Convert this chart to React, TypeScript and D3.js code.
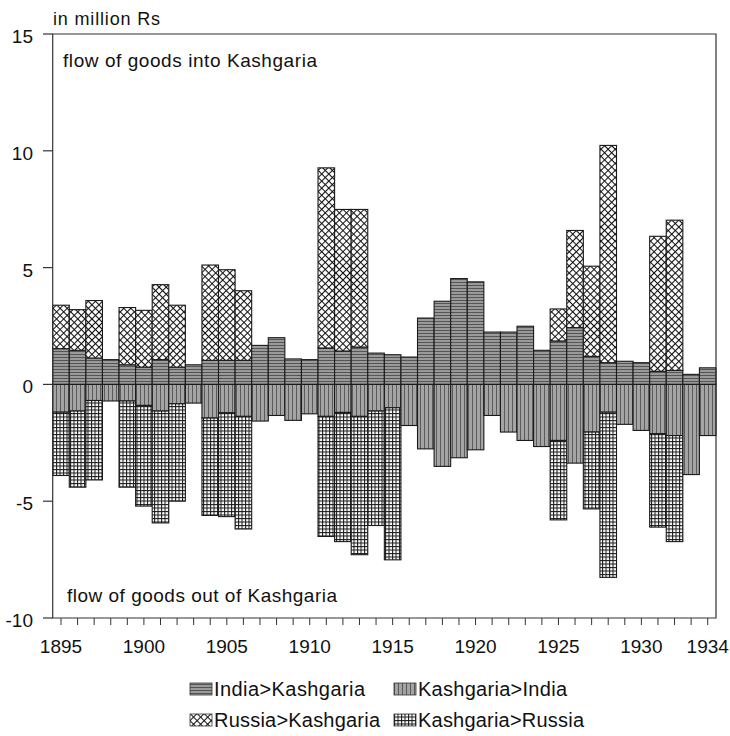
import { useEffect, useRef } from 'react';
import * as d3 from 'd3';

// trade flows of Kashgaria, million Rs, one value per year
const years = d3.range(1895, 1935);

const indiaToKashgaria = [
  1.53, 1.46, 1.13, 1.06, 0.84, 0.74, 1.06, 0.74, 0.84, 1.03,
  1.03, 1.03, 1.67, 2.0, 1.09, 1.06, 1.56, 1.43, 1.6, 1.34,
  1.27, 1.17, 2.84, 3.56, 4.53, 4.39, 2.24, 2.24, 2.49, 1.46,
  1.86, 2.43, 1.2, 0.93, 0.99, 0.93, 0.56, 0.6, 0.43, 0.71,
];
const russiaToKashgaria = [
  1.86, 1.74, 2.46, 0, 2.45, 2.43, 3.21, 2.65, 0, 4.08,
  3.88, 2.98, 0, 0, 0, 0, 7.71, 6.06, 5.89, 0,
  0, 0, 0, 0, 0, 0, 0, 0, 0, 0,
  1.37, 4.16, 3.86, 9.3, 0, 0, 5.78, 6.43, 0, 0,
];
const kashgariaToIndia = [
  1.19, 1.14, 0.69, 0.71, 0.71, 0.9, 1.14, 0.83, 0.8, 1.44,
  1.21, 1.37, 1.57, 1.33, 1.54, 1.26, 1.37, 1.2, 1.37, 1.14,
  1.0, 1.76, 2.76, 3.51, 3.14, 2.8, 1.33, 2.04, 2.4, 2.66,
  2.4, 3.37, 2.04, 1.19, 1.71, 1.97, 2.11, 2.19, 3.86, 2.19,
];
const kashgariaToRussia = [
  2.71, 3.26, 3.4, 0, 3.69, 4.31, 4.79, 4.17, 0, 4.17,
  4.45, 4.82, 0, 0, 0, 0, 5.14, 5.53, 5.92, 4.9,
  6.51, 0, 0, 0, 0, 0, 0, 0, 0, 0,
  3.4, 0, 3.29, 7.07, 0, 0, 4.0, 4.54, 0, 0,
];

const yTicks = [15, 10, 5, 0, -5, -10];
const yearLabels = [1895, 1900, 1905, 1910, 1915, 1920, 1925, 1930, 1934];

const legendItems = [
  { key: 'ind', label: 'India>Kashgaria', len: 151 },
  { key: 'kind', label: 'Kashgaria>India', len: 149 },
  { key: 'rus', label: 'Russia>Kashgaria', len: 166 },
  { key: 'krus', label: 'Kashgaria>Russia', len: 166 },
];

const FONT = "'Liberation Sans', Arial, Helvetica, sans-serif";

interface Segment {
  year: number;
  y0: number;
  y1: number;
  key: string;
}

export default function App() {
  const svgRef = useRef<SVGSVGElement>(null);

  useEffect(() => {
    if (!svgRef.current) return;
    const svg = d3.select(svgRef.current);
    svg.selectAll('g.chart').remove();

    const left = 52.7;
    const right = 716;
    const top = 34;
    const bottom = 618;

    const x = d3.scaleBand<number>().domain(years).range([left, right]).padding(0);
    const y = d3.scaleLinear().domain([-10, 15]).range([bottom, top]);

    // stack the four flows: imports above zero, exports below
    const segments: Segment[] = [];
    years.forEach((year, i) => {
      const ind = indiaToKashgaria[i];
      const rus = russiaToKashgaria[i];
      const kin = kashgariaToIndia[i];
      const kru = kashgariaToRussia[i];
      if (ind > 0) segments.push({ year, y0: 0, y1: ind, key: 'ind' });
      if (rus > 0) segments.push({ year, y0: ind, y1: ind + rus, key: 'rus' });
      if (kin > 0) segments.push({ year, y0: -kin, y1: 0, key: 'kind' });
      if (kru > 0) segments.push({ year, y0: -kin - kru, y1: -kin, key: 'krus' });
    });

    const g = svg.append('g').attr('class', 'chart');

    g.selectAll('.seg')
      .data(segments)
      .enter()
      .append('rect')
      .attr('class', 'seg')
      .attr('x', d => x(d.year) ?? 0)
      .attr('width', x.bandwidth())
      .attr('y', d => y(d.y1))
      .attr('height', d => y(d.y0) - y(d.y1))
      .attr('fill', d => `url(#p-${d.key})`)
      .attr('stroke', '#1a1a1a')
      .attr('stroke-width', 1.1);

    // frame
    g.append('path')
      .attr('d', `M${left},${top}H${right}V${bottom}H${left}Z`)
      .attr('fill', 'none')
      .attr('stroke', '#333')
      .attr('stroke-width', 1.2);

    // y axis ticks and labels
    const yAxis = g.append('g');
    yAxis.selectAll('line')
      .data(yTicks)
      .enter()
      .append('line')
      .attr('x1', 43)
      .attr('x2', left)
      .attr('y1', d => y(d))
      .attr('y2', d => y(d))
      .attr('stroke', '#333')
      .attr('stroke-width', 1.2);
    yAxis.selectAll('text')
      .data(yTicks)
      .enter()
      .append('text')
      .attr('x', 33)
      .attr('y', d => y(d) + 9)
      .attr('text-anchor', 'end')
      .attr('font-size', 19)
      .attr('font-family', FONT)
      .attr('fill', '#111')
      .text(d => String(d));

    // x axis ticks and labels
    const xAxis = g.append('g');
    xAxis.selectAll('line')
      .data(years)
      .enter()
      .append('line')
      .attr('x1', d => (x(d) ?? 0) + x.bandwidth() / 2)
      .attr('x2', d => (x(d) ?? 0) + x.bandwidth() / 2)
      .attr('y1', bottom)
      .attr('y2', bottom + 7)
      .attr('stroke', '#333')
      .attr('stroke-width', 1);
    xAxis.selectAll('text')
      .data(yearLabels)
      .enter()
      .append('text')
      .attr('x', d => (x(d) ?? 0) + x.bandwidth() / 2)
      .attr('y', 653)
      .attr('text-anchor', 'middle')
      .attr('font-size', 19)
      .attr('font-family', FONT)
      .attr('fill', '#111')
      .text(d => String(d));

    // annotations
    const notes = [
      { text: 'in million Rs', x: 53, y: 25, size: 18, len: 107 },
      { text: 'flow of goods into Kashgaria', x: 63, y: 67, size: 19, len: 254 },
      { text: 'flow of goods out of Kashgaria', x: 67, y: 602, size: 19, len: 270 },
    ];
    g.selectAll('.note')
      .data(notes)
      .enter()
      .append('text')
      .attr('class', 'note')
      .attr('x', d => d.x)
      .attr('y', d => d.y)
      .attr('font-size', d => d.size)
      .attr('font-family', FONT)
      .attr('fill', '#111')
      .attr('textLength', d => d.len)
      .attr('lengthAdjust', 'spacing')
      .text(d => d.text);

    // legend, two columns by two rows
    const legend = g.append('g');
    const item = legend.selectAll('.leg')
      .data(legendItems)
      .enter()
      .append('g')
      .attr('class', 'leg')
      .attr('transform', (_, i) => `translate(${i % 2 === 0 ? 190 : 394},${i < 2 ? 696 : 727})`);
    item.append('rect')
      .attr('x', 0)
      .attr('y', -13)
      .attr('width', 22)
      .attr('height', 12)
      .attr('fill', d => `url(#p-${d.key})`)
      .attr('stroke', '#333')
      .attr('stroke-width', 0.8);
    item.append('text')
      .attr('x', 24)
      .attr('y', 0)
      .attr('font-size', 20)
      .attr('font-family', FONT)
      .attr('fill', '#111')
      .attr('textLength', d => d.len)
      .attr('lengthAdjust', 'spacing')
      .text(d => d.label);
  }, []);

  return (
    <svg
      ref={svgRef}
      width={730}
      height={736}
      style={{ position: 'absolute', left: 0, top: 0, background: '#fff' }}
    >
      <defs>
        <pattern id="p-ind" width="6" height="3" patternUnits="userSpaceOnUse">
          <rect width="6" height="3" fill="#9a9a9a" />
          <line x1="0" y1="0.5" x2="6" y2="0.5" stroke="#555" strokeWidth="1" />
        </pattern>
        <pattern id="p-kind" width="4" height="6" patternUnits="userSpaceOnUse">
          <rect width="4" height="6" fill="#a4a4a4" />
          <line x1="0.5" y1="0" x2="0.5" y2="6" stroke="#5a5a5a" strokeWidth="1" />
        </pattern>
        <pattern
          id="p-rus"
          width="5"
          height="5"
          patternUnits="userSpaceOnUse"
          patternTransform="rotate(45)"
        >
          <rect width="5" height="5" fill="#fff" />
          <line x1="0" y1="0" x2="5" y2="0" stroke="#111" strokeWidth="2.1" />
          <line x1="0" y1="0" x2="0" y2="5" stroke="#111" strokeWidth="2.1" />
        </pattern>
        <pattern id="p-krus" width="3.5" height="3.5" patternUnits="userSpaceOnUse">
          <rect width="3.5" height="3.5" fill="#fff" />
          <line x1="0" y1="0.5" x2="3.5" y2="0.5" stroke="#1a1a1a" strokeWidth="1.1" />
          <line x1="0.5" y1="0" x2="0.5" y2="3.5" stroke="#1a1a1a" strokeWidth="1.1" />
        </pattern>
      </defs>
    </svg>
  );
}
